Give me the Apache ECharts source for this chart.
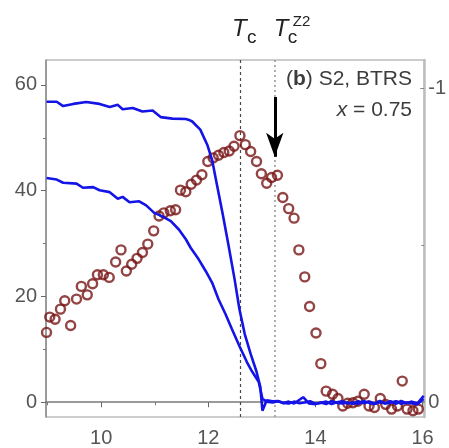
<!DOCTYPE html>
<html>
<head>
<meta charset="utf-8">
<style>
  html, body { margin: 0; padding: 0; background: #ffffff; }
  #chart { width: 449px; height: 448px; }
</style>
<script src="https://cdn.jsdelivr.net/npm/echarts@6/dist/echarts.min.js"></script>
</head>
<body>
<div id="chart"></div>
<script>
// Scattered intensity (left axis), measured vs. temperature
const temperature = [8.98, 9.04, 9.14, 9.24, 9.32, 9.43, 9.54, 9.63, 9.74, 9.84,
  9.93, 10.04, 10.15, 10.27, 10.37, 10.47, 10.57, 10.67, 10.77, 10.87,
  10.98, 11.08, 11.17, 11.29, 11.39, 11.48, 11.58, 11.68, 11.78, 11.88,
  11.99, 12.09, 12.19, 12.29, 12.39, 12.48, 12.59, 12.69, 12.79, 12.90,
  12.99, 13.09, 13.18, 13.29, 13.39, 13.50, 13.60, 13.69, 13.80, 13.89,
  14.01, 14.10, 14.20, 14.32, 14.42, 14.51, 14.60, 14.70, 14.79, 14.91,
  15.00, 15.10, 15.21, 15.31, 15.42, 15.53, 15.62, 15.71, 15.82, 15.92];
const intensity = [13.2, 16.1, 15.7, 17.6, 19.2, 14.5, 19.5, 21.9, 20.3, 22.4,
  24.1, 24.1, 23.6, 26.5, 28.8, 24.8, 26.1, 27.2, 28.3, 29.9,
  32.4, 35.2, 35.8, 36.2, 36.4, 40.1, 39.8, 41.2, 42.0, 43.0,
  45.5, 46.2, 46.7, 47.2, 47.5, 48.4, 50.4, 48.7, 47.4, 45.5,
  43.2, 41.4, 42.5, 42.9, 38.7, 36.6, 34.8, 28.8, 23.7, 18.1,
  13.1, 7.3, 2.1, 1.5, 0.7, -0.7, -0.2, -0.1, 0.2, 1.5,
  -0.7, -1.0, 0.7, -0.4, -1.3, -0.7, 4.0, -1.3, -1.6, -1.3];

// Order-parameter curves (right axis, inverted)
const orderTempA = [8.98, 9.17, 9.29, 9.48, 9.72, 9.97, 10.16, 10.31, 10.40, 10.59,
  10.77, 10.96, 11.11, 11.33, 11.58, 11.64, 11.70, 11.85, 11.98, 12.07,
  12.16, 12.27, 12.38, 12.49, 12.58, 12.68, 12.79, 12.90, 12.97, 13.01,
  13.09, 13.20, 13.30, 13.40, 13.50, 13.60, 13.77, 13.88, 14.00, 14.10,
  14.20, 14.30, 14.40, 14.50, 14.60, 14.70, 14.80, 14.90, 15.00, 15.10,
  15.20, 15.30, 15.40, 15.50, 15.60, 15.70, 15.80, 15.90, 16.02];
const orderA = [-0.957, -0.957, -0.943, -0.950, -0.956, -0.950, -0.940, -0.947, -0.933, -0.937,
  -0.926, -0.929, -0.908, -0.903, -0.902, -0.899, -0.894, -0.868, -0.820, -0.772,
  -0.693, -0.598, -0.497, -0.392, -0.297, -0.217, -0.154, -0.097, -0.049, 0.027,
  -0.006, -0.003, -0.004, 0.003, -0.002, 0.004, -0.016, 0.004, 0.006, 0.001,
  0.006, -0.004, 0.002, 0.004, 0.001, 0.005, -0.003, 0.003, -0.002, 0.004,
  -0.004, 0.003, -0.003, 0.005, -0.004, 0.003, -0.002, 0.004, -0.020];

const orderTempB = [8.98, 9.17, 9.29, 9.54, 9.66, 9.85, 9.97, 10.16, 10.31, 10.40,
  10.53, 10.71, 10.84, 10.99, 11.14, 11.30, 11.45, 11.58, 11.67, 11.82,
  11.95, 12.07, 12.19, 12.32, 12.44, 12.58, 12.72, 12.82, 12.94, 13.01,
  13.09, 13.20, 13.30, 13.40, 13.50, 13.60, 13.70, 13.80, 13.90, 14.00,
  14.10, 14.20, 14.30, 14.40, 14.50, 14.60, 14.70, 14.80, 14.90, 15.00,
  15.10, 15.20, 15.30, 15.40, 15.50, 15.60, 15.70, 15.80, 15.90, 16.02];
const orderB = [-0.714, -0.709, -0.699, -0.696, -0.683, -0.685, -0.675, -0.669, -0.648, -0.654,
  -0.637, -0.640, -0.627, -0.603, -0.592, -0.577, -0.550, -0.519, -0.492, -0.455,
  -0.418, -0.381, -0.328, -0.281, -0.233, -0.179, -0.128, -0.097, -0.065, -0.011,
  -0.002, 0.001, -0.003, 0.002, 0.004, -0.002, 0.003, 0.001, -0.003, 0.005,
  0.002, -0.002, 0.006, 0.000, -0.003, 0.004, 0.001, 0.005, -0.004, 0.002,
  0.006, -0.001, 0.004, 0.002, -0.003, 0.005, 0.001, 0.004, 0.006, -0.010];

// Ticks
const xTicks = [10, 12, 14, 16];
const xMinorTicks = [9, 11, 13, 15];
const leftTicks = [0, 20, 40, 60];
const leftMinorTicks = [10, 30, 50];
const rightTicks = [-1, 0];
const rightMinorTicks = [-0.5];

// Transition temperatures and arrow span (left-axis units)
const TC = 12.59;
const TC_Z2 = 13.24;
const arrowFrom = 57.7;
const arrowTo = 46.4;

const FONT = '"Liberation Sans", Arial, Helvetica, sans-serif';
const X_RANGE = { min: 8.97, max: 16.03 };
const L_RANGE = { min: -2.79, max: 64.7 };
const R_RANGE = { min: -1.0898, max: 0.047 };

const zip = (xs, ys) => xs.map((x, i) => [x, ys[i]]);

const chart = echarts.init(document.getElementById('chart'), null, { renderer: 'canvas' });

const tickLabel = { fontFamily: FONT, fontSize: 20, color: '#555' };

chart.setOption({
  animation: false,
  backgroundColor: '#ffffff',
  grid: { left: 46, right: 22, top: 60, bottom: 30, show: true, borderColor: '#9a9a9a', borderWidth: 1 },
  xAxis: [
    {
      type: 'value', ...X_RANGE, position: 'bottom',
      axisLine: { show: true, lineStyle: { color: '#7a7a7a', width: 1.5 } },
      axisTick: { show: true, customValues: xTicks, length: 5, lineStyle: { color: '#666', width: 1 } },
      axisLabel: { ...tickLabel, customValues: xTicks, margin: 11 },
      splitLine: { show: false }
    },
    {
      type: 'value', ...X_RANGE, position: 'bottom',
      axisLine: { show: false },
      axisTick: { show: true, customValues: xMinorTicks, length: 3, lineStyle: { color: '#777', width: 1 } },
      axisLabel: { show: false },
      splitLine: { show: false }
    }
  ],
  yAxis: [
    {
      type: 'value', ...L_RANGE, position: 'left',
      axisLine: { show: true, lineStyle: { color: '#8a8a8a', width: 1.5 } },
      axisTick: { show: true, customValues: leftTicks, length: 5, lineStyle: { color: '#666', width: 1 } },
      axisLabel: { ...tickLabel, customValues: leftTicks, margin: 9 },
      splitLine: { show: false }
    },
    {
      type: 'value', ...L_RANGE, position: 'left',
      axisLine: { show: false },
      axisTick: { show: true, customValues: leftMinorTicks, length: 3, lineStyle: { color: '#777', width: 1 } },
      axisLabel: { show: false },
      splitLine: { show: false }
    },
    {
      type: 'value', ...R_RANGE, inverse: true, position: 'right',
      axisLine: { show: true, lineStyle: { color: '#bdbdbd', width: 2.5 } },
      axisTick: { show: true, inside: true, customValues: rightTicks, length: 4, lineStyle: { color: '#888', width: 1 } },
      axisLabel: { ...tickLabel, customValues: rightTicks, margin: 4 },
      splitLine: { show: false }
    },
    {
      type: 'value', ...R_RANGE, inverse: true, position: 'right',
      axisLine: { show: false },
      axisTick: { show: true, inside: true, customValues: rightMinorTicks, length: 3, lineStyle: { color: '#888', width: 1 } },
      axisLabel: { show: false },
      splitLine: { show: false }
    }
  ],
  series: [
    {
      name: 'intensity',
      type: 'scatter',
      xAxisIndex: 0, yAxisIndex: 0,
      data: zip(temperature, intensity),
      symbol: 'circle',
      symbolSize: 9,
      itemStyle: { color: 'rgba(255,255,255,0)', borderColor: '#781515', borderWidth: 2.4 },
      z: 2,
      markLine: {
        silent: true,
        symbol: ['none', 'none'],
        label: { show: false },
        z: 1,
        data: [
          { xAxis: TC, lineStyle: { color: '#484848', type: [3, 3], width: 1.2 } },
          { xAxis: TC_Z2, lineStyle: { color: '#9a9a9a', type: [2, 3], width: 1.6 } },
          [
            { coord: [TC_Z2, arrowFrom], symbol: 'none', lineStyle: { color: '#000', type: 'solid', width: 3 } },
            { coord: [TC_Z2, arrowTo], symbol: 'arrow', symbolSize: [13, 24] }
          ]
        ]
      }
    },
    {
      name: 'order A',
      type: 'line',
      xAxisIndex: 0, yAxisIndex: 2,
      data: zip(orderTempA, orderA),
      showSymbol: false,
      lineStyle: { color: '#1414e6', width: 2.6 },
      z: 3
    },
    {
      name: 'order B',
      type: 'line',
      xAxisIndex: 0, yAxisIndex: 2,
      data: zip(orderTempB, orderB),
      showSymbol: false,
      lineStyle: { color: '#1414e6', width: 2.6 },
      z: 3
    }
  ]
});

// Annotation texts placed relative to the transition lines
const pxTc = chart.convertToPixel({ xAxisIndex: 0 }, TC);
const pxZ2 = chart.convertToPixel({ xAxisIndex: 0 }, TC_Z2);
const txt = (x, y, text, size, extra) => ({
  type: 'text', x: x, y: y, silent: true, z: 10,
  style: Object.assign({ text: text, fill: '#222', fontFamily: FONT, fontSize: size,
    align: 'left', verticalAlign: 'middle' }, extra || {})
});

chart.setOption({
  graphic: [
    txt(pxTc - 8, 29, 'T', 24, { fontStyle: 'italic' }),
    txt(pxTc + 7, 38, 'c', 19),
    txt(pxZ2 - 1, 29, 'T', 24, { fontStyle: 'italic' }),
    txt(pxZ2 + 13, 38, 'c', 19),
    txt(pxZ2 + 18, 22, 'Z2', 15),
    {
      type: 'text', right: 37, top: 69, silent: true, z: 10,
      style: {
        text: '{n|(}{b|b}{n|) S2, BTRS}',
        fill: '#3c3c3c', fontFamily: FONT, fontSize: 21,
        rich: {
          n: { fontFamily: FONT, fontSize: 21, fill: '#3c3c3c' },
          b: { fontFamily: FONT, fontSize: 21, fontWeight: 'bold', fill: '#3c3c3c' }
        }
      }
    },
    {
      type: 'text', right: 37, top: 100, silent: true, z: 10,
      style: {
        text: '{i|x}{n| = 0.75}',
        fill: '#3c3c3c', fontFamily: FONT, fontSize: 21,
        rich: {
          i: { fontFamily: FONT, fontSize: 21, fontStyle: 'italic', fill: '#3c3c3c' },
          n: { fontFamily: FONT, fontSize: 21, fill: '#3c3c3c' }
        }
      }
    }
  ]
});
</script>
</body>
</html>
